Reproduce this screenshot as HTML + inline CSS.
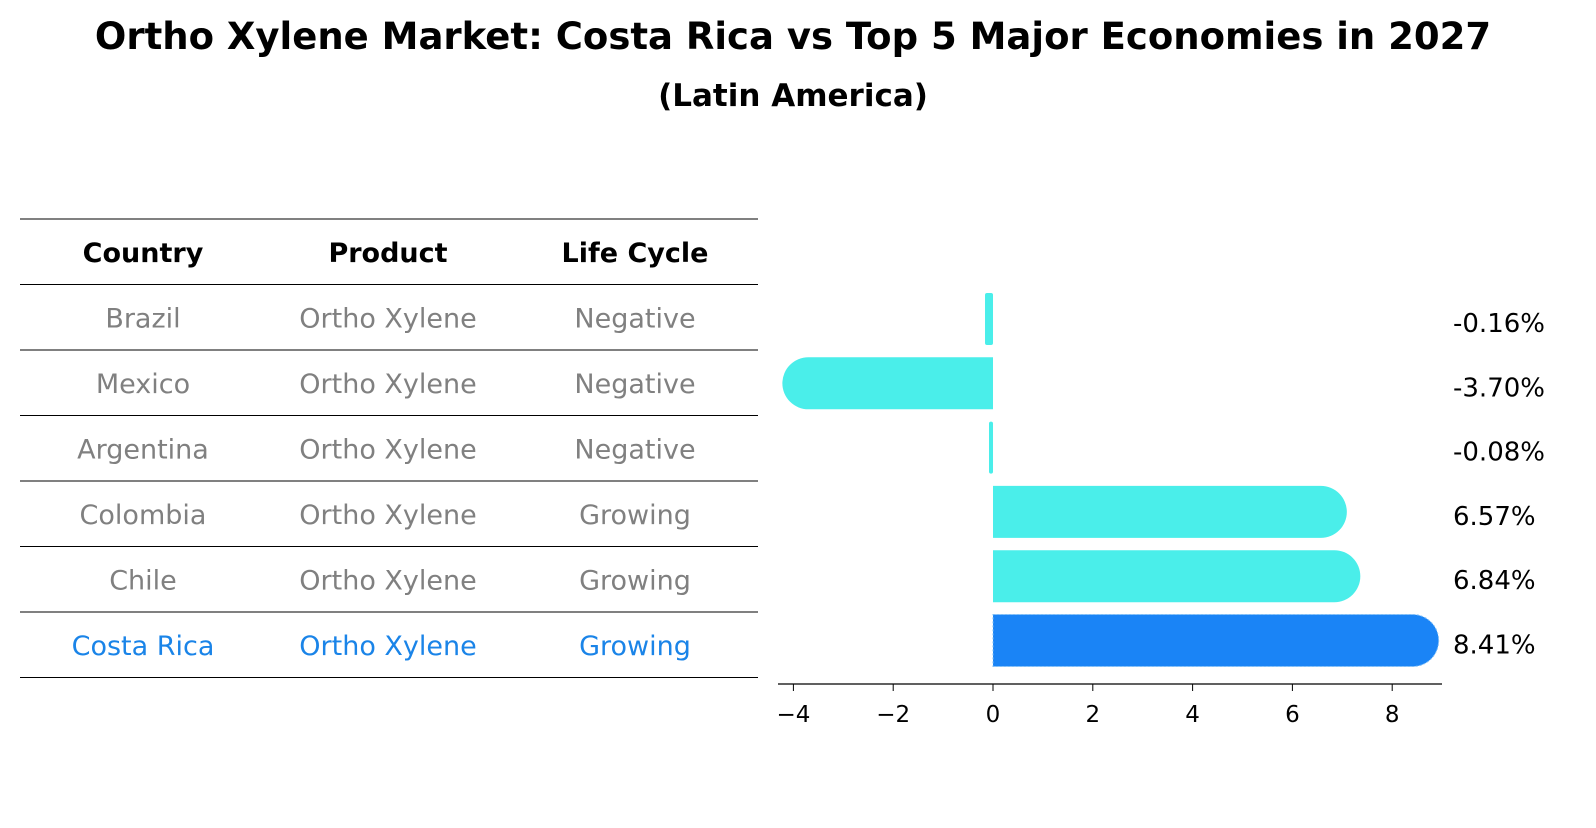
<!DOCTYPE html>
<html><head><meta charset="utf-8"><style>
body{margin:0;background:#fff;width:1596px;height:823px;overflow:hidden;font-family:"Liberation Sans","DejaVu Sans",sans-serif;}
</style></head><body>
<svg width="1596" height="823" font-family="DejaVu Sans, Liberation Sans, sans-serif">
<text x="793" y="49" text-anchor="middle" font-size="37" font-weight="bold">Ortho Xylene Market: Costa Rica vs Top 5 Major Economies in 2027</text>
<text x="793" y="106" text-anchor="middle" font-size="31" font-weight="bold">(Latin America)</text>
<g id="table"></g>
<g id="bars"></g>
</svg>
<script>
const countries=["Brazil","Mexico","Argentina","Colombia","Chile","Costa Rica"];
const products=["Ortho Xylene","Ortho Xylene","Ortho Xylene","Ortho Xylene","Ortho Xylene","Ortho Xylene"];
const lifeCycles=["Negative","Negative","Negative","Growing","Growing","Growing"];
const values=[-0.16,-3.70,-0.08,6.57,6.84,8.41];
const xTicks=[-4,-2,0,2,4,6,8];
const NS="http://www.w3.org/2000/svg";
function mk(t,a,p){const e=document.createElementNS(NS,t);for(const k in a)e.setAttribute(k,a[k]);p.appendChild(e);return e;}
const tbl=document.getElementById('table'),bars=document.getElementById('bars');
const rowH=65.5,top0=219,colX=[143,388,635];
for(let i=0;i<=countries.length+1;i++){const l=mk('line',{x1:20,x2:758,y1:top0+i*rowH,y2:top0+i*rowH,stroke:'#000','stroke-width':1},tbl);

}
["Country","Product","Life Cycle"].forEach((h,j)=>{const t=mk('text',{x:colX[j],y:top0+rowH/2+10,'text-anchor':'middle','font-size':27,'font-weight':'bold'},tbl);t.textContent=h;

});
countries.forEach((c,i)=>{const col=c==="Costa Rica"?"#1a84e8":"#808080";[c,products[i],lifeCycles[i]].forEach((v,j)=>{const t=mk('text',{x:colX[j],y:top0+rowH*(i+1)+rowH/2+10,'text-anchor':'middle','font-size':27,fill:col},tbl);t.textContent=v;

});});
const x0=993,ppu=49.9;const X=v=>x0+v*ppu;
const yc=i=>319+i*64.3,bh=52;
const ax=mk('line',{x1:778,x2:1442,y1:684,y2:684,stroke:'#000','stroke-width':1.3},bars);


xTicks.forEach(v=>{const tk=mk('line',{x1:X(v),x2:X(v),y1:684,y2:691,stroke:'#000'},bars);


const t=mk('text',{x:X(v),y:722,'text-anchor':'middle','font-size':23},bars);t.textContent=(v<0?'\u2212'+(-v):v);

});
values.forEach((v,i)=>{const hl=countries[i]==="Costa Rica";const col=hl?'#1a84f6':'#4aeeea';const r=bh/2,y=yc(i);
const xe=X(v),dir=v>=0?1:-1;
const g=mk('g',{},bars);

const w=Math.abs(xe-x0);
if(w>r){const d=`M${x0},${y-r} L${xe},${y-r} A${r},${r} 0 0 ${dir>0?1:0} ${xe},${y+r} L${x0},${y+r} Z`;
mk('path',{d:d,fill:col,stroke:hl?'#7fbff5':'none','stroke-dasharray':hl?'2,2':'none'},g);}
else mk('rect',{x:Math.min(x0,xe),y:y-r,width:Math.max(w,4),height:bh,rx:2,fill:col},g);
const t=mk('text',{x:1453,y:y+13,'font-size':26},bars);t.textContent=v.toFixed(2)+'%';

});
</script>
</body></html>
